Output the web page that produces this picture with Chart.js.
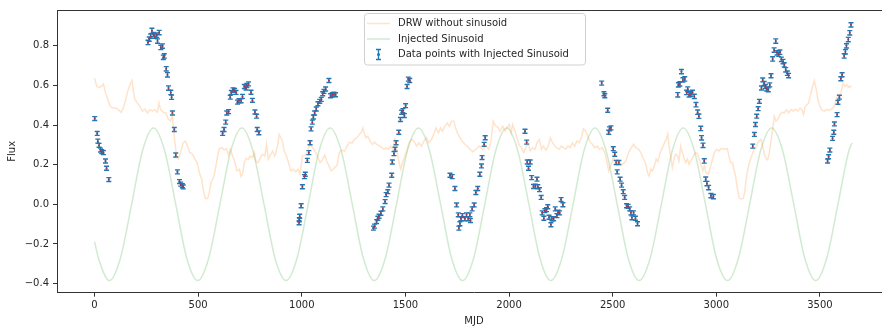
<!DOCTYPE html>
<html>
<head>
<meta charset="utf-8">
<script src="https://cdn.jsdelivr.net/npm/chart.js@4"></script>
<style>
html,body{margin:0;padding:0;background:#fff;overflow:hidden;}
#wrap{position:absolute;left:0;top:0;width:895px;height:329px;}
</style>
</head>
<body>
<div id="wrap"><canvas id="c" width="895" height="329"></canvas></div>
<script>
// ---- Data ----
const xTicks = [0, 500, 1000, 1500, 2000, 2500, 3000, 3500];
const yTicks = [-0.4, -0.2, 0.0, 0.2, 0.4, 0.6, 0.8];

const drwT = [0,11,24,35,43,51,62,75,88,101,115,128,139,150,160,171,181,187,195,207,219,231,243,255,267,280,291,303,311,319,332,344,356,367,375,380,388,396,405,415,428,439,449,460,473,484,495,506,517,527,534,546,554,562,574,583,594,602,615,626,638,646,655,666,678,687,699,707,714,723,731,742,751,763,771,779,790,800,811,822,830,838,848,859,870,883,891,899,907,915,926,936,947,958,971,982,992,1003,1014,1027,1035,1046,1056,1067,1078,1088,1099,1111,1120,1131,1142,1155,1170,1181,1194,1207,1218,1229,1242,1253,1266,1277,1287,1295,1301,1309,1319,1330,1341,1351,1362,1373,1386,1397,1407,1418,1429,1439,1450,1458,1466,1477,1486,1495,1506,1517,1530,1541,1554,1565,1578,1589,1602,1613,1626,1637,1647,1659,1670,1679,1690,1702,1712,1723,1734,1742,1751,1763,1774,1787,1799,1811,1825,1841,1857,1873,1889,1902,1913,1924,1934,1945,1957,1969,1981,1990,2001,2010,2017,2029,2038,2050,2061,2070,2082,2093,2102,2113,2125,2135,2146,2157,2166,2178,2189,2199,2210,2221,2231,2242,2253,2263,2274,2285,2295,2306,2317,2327,2338,2349,2359,2370,2381,2391,2402,2413,2426,2437,2449,2462,2473,2481,2492,2505,2517,2529,2540,2553,2564,2577,2588,2601,2612,2625,2636,2646,2654,2662,2668,2676,2684,2692,2702,2710,2718,2729,2740,2750,2758,2766,2772,2780,2788,2796,2804,2813,2820,2828,2836,2844,2852,2861,2868,2876,2886,2894,2902,2910,2918,2926,2935,2942,2950,2962,2973,2982,2990,3001,3013,3022,3034,3045,3053,3061,3069,3077,3085,3093,3101,3111,3122,3130,3137,3144,3152,3160,3168,3176,3184,3192,3200,3208,3216,3224,3232,3240,3248,3256,3264,3272,3280,3288,3296,3308,3317,3328,3339,3349,3361,3372,3381,3392,3404,3414,3421,3429,3438,3445,3453,3463,3473,3481,3489,3497,3508,3521,3532,3545,3556,3569,3577,3585,3593,3601,3612,3620,3630,3641,3652];
const drwF = [0.637,0.595,0.590,0.598,0.608,0.570,0.536,0.495,0.486,0.486,0.478,0.465,0.486,0.528,0.570,0.603,0.625,0.578,0.528,0.511,0.495,0.470,0.481,0.461,0.478,0.470,0.478,0.465,0.511,0.478,0.465,0.461,0.431,0.420,0.453,0.394,0.311,0.244,0.228,0.261,0.311,0.319,0.294,0.261,0.253,0.228,0.211,0.160,0.127,0.060,0.030,0.030,0.060,0.110,0.135,0.177,0.244,0.281,0.286,0.274,0.281,0.248,0.278,0.244,0.211,0.169,0.177,0.140,0.152,0.211,0.231,0.228,0.244,0.236,0.261,0.215,0.211,0.236,0.253,0.244,0.303,0.228,0.248,0.269,0.244,0.294,0.353,0.336,0.319,0.269,0.244,0.211,0.169,0.177,0.164,0.177,0.152,0.244,0.248,0.261,0.294,0.297,0.281,0.261,0.236,0.211,0.224,0.248,0.219,0.194,0.169,0.181,0.197,0.261,0.274,0.269,0.294,0.314,0.308,0.328,0.336,0.353,0.364,0.386,0.361,0.336,0.344,0.319,0.303,0.314,0.303,0.297,0.286,0.278,0.286,0.278,0.294,0.278,0.328,0.278,0.228,0.177,0.211,0.236,0.269,0.311,0.328,0.319,0.294,0.311,0.294,0.319,0.336,0.311,0.328,0.353,0.386,0.361,0.386,0.369,0.394,0.411,0.394,0.420,0.420,0.386,0.361,0.336,0.319,0.303,0.294,0.278,0.265,0.278,0.294,0.278,0.294,0.278,0.319,0.420,0.398,0.390,0.369,0.394,0.369,0.386,0.403,0.361,0.403,0.369,0.336,0.297,0.286,0.261,0.286,0.311,0.269,0.286,0.278,0.311,0.328,0.278,0.294,0.274,0.294,0.336,0.311,0.294,0.286,0.278,0.294,0.286,0.278,0.294,0.286,0.311,0.294,0.319,0.311,0.336,0.381,0.369,0.340,0.314,0.303,0.286,0.294,0.278,0.286,0.261,0.211,0.169,0.202,0.236,0.211,0.219,0.197,0.207,0.219,0.261,0.281,0.303,0.286,0.278,0.261,0.236,0.219,0.194,0.160,0.143,0.177,0.169,0.197,0.228,0.215,0.261,0.286,0.311,0.328,0.355,0.294,0.244,0.186,0.228,0.253,0.244,0.219,0.294,0.261,0.236,0.211,0.228,0.202,0.219,0.236,0.253,0.261,0.253,0.228,0.202,0.169,0.194,0.160,0.152,0.194,0.228,0.261,0.278,0.269,0.281,0.281,0.278,0.281,0.244,0.211,0.211,0.177,0.144,0.085,0.030,0.027,0.030,0.060,0.127,0.177,0.211,0.236,0.261,0.278,0.286,0.311,0.319,0.328,0.294,0.253,0.231,0.224,0.261,0.319,0.378,0.445,0.420,0.428,0.453,0.465,0.461,0.478,0.461,0.478,0.470,0.481,0.470,0.486,0.475,0.453,0.495,0.503,0.511,0.545,0.587,0.625,0.587,0.536,0.503,0.478,0.470,0.478,0.475,0.481,0.495,0.520,0.550,0.553,0.562,0.612,0.595,0.603,0.590,0.598];

const sinT = [0,19,72,125,179,232,285,338,392,445,498,551,605,658,711,764,818,871,924,977,1031,1084,1137,1190,1244,1297,1350,1403,1457,1510,1563,1616,1670,1723,1776,1829,1883,1936,1989,2042,2096,2149,2202,2255,2309,2362,2415,2468,2522,2575,2628,2681,2735,2788,2841,2894,2948,3001,3054,3107,3161,3214,3267,3320,3374,3427,3480,3533,3587,3640,3655];
const sinF = [-0.188,-0.272,-0.385,-0.272,0,0.272,0.385,0.272,0,-0.272,-0.385,-0.272,0,0.272,0.385,0.272,0,-0.272,-0.385,-0.272,0,0.272,0.385,0.272,0,-0.272,-0.385,-0.272,0,0.272,0.385,0.272,0,-0.272,-0.385,-0.272,0,0.272,0.385,0.272,0,-0.272,-0.385,-0.272,0,0.272,0.385,0.272,0,-0.272,-0.385,-0.272,0,0.272,0.385,0.272,0,-0.272,-0.385,-0.272,0,0.272,0.385,0.272,0,-0.272,-0.385,-0.272,0,0.272,0.31];

const obsT = [1,13,16,22,29,35,43,53,58,69,
258,264,271,277,284,291,300,304,312,320,328,332,337,346,352,357,368,372,376,385,392,400,410,416,424,428,
618,625,633,638,647,655,660,668,676,683,690,697,707,714,723,731,735,743,755,762,774,782,785,793,
987,988,990,997,1003,1013,1017,1027,1034,1040,1045,1051,1056,1062,1070,1078,1087,1094,1101,1107,1115,1131,1139,1147,1155,1163,
1346,1351,1361,1367,1373,1382,1391,1402,1407,1415,1421,1434,1437,1445,1450,1455,1468,1476,1482,1488,1495,1501,1508,1514,1521,
1715,1726,1739,1747,1755,1758,1763,1768,1775,1787,1795,1803,1811,1814,1822,1832,1840,1849,1859,1867,1870,1880,1885,
2077,2085,2088,2094,2102,2109,2118,2127,2135,2139,2147,2155,2160,2168,2173,2181,2187,2193,2202,2207,2215,2223,2231,2237,2244,2251,2260,
2447,2458,2462,2476,2481,2485,2492,2503,2510,2517,2522,2530,2536,2543,2551,2558,2567,2575,2582,2588,2593,2601,2610,2620,
2814,2817,2824,2832,2839,2848,2857,2862,2869,2877,2885,2894,2902,2910,2916,2925,2929,2936,2942,2949,2955,2963,2974,2986,
3176,3184,3189,3195,3202,3208,3218,3224,3231,3237,3243,3251,3258,3264,3272,3279,3287,3293,3301,3307,3314,3322,3328,3335,3343,3349,
3537,3542,3548,3561,3567,3570,3583,3587,3594,3601,3607,3617,3623,3628,3637,3644,3650];
const obsF = [0.433,0.358,0.319,0.298,0.274,0.266,0.261,0.219,0.182,0.125,
0.817,0.834,0.849,0.876,0.857,0.849,0.854,0.824,0.867,0.792,0.799,0.742,0.749,0.684,0.654,0.587,0.565,0.541,0.461,0.378,0.249,0.164,0.115,0.102,0.094,0.088,
0.358,0.378,0.415,0.461,0.468,0.541,0.565,0.578,0.575,0.565,0.516,0.523,0.523,0.545,0.595,0.587,0.600,0.608,0.566,0.525,0.466,0.445,0.378,0.361,
-0.093,-0.078,-0.060,-0.007,0.089,0.140,0.152,0.222,0.261,0.311,0.381,0.415,0.441,0.461,0.481,0.508,0.520,0.530,0.558,0.570,0.582,0.625,0.548,0.553,0.556,0.553,
-0.120,-0.110,-0.087,-0.070,-0.060,-0.045,-0.023,0.014,0.049,0.064,0.097,0.147,0.214,0.256,0.278,0.311,0.364,0.428,0.465,0.473,0.448,0.498,0.595,0.632,0.625,
0.147,0.140,0.080,-0.003,-0.053,-0.120,-0.098,-0.073,-0.057,-0.073,-0.053,-0.073,-0.053,-0.082,-0.023,-0.003,0.060,0.080,0.152,0.194,0.236,0.303,0.336,
0.369,0.314,0.214,0.182,0.214,0.135,0.090,0.092,0.127,0.089,0.074,0.035,-0.043,-0.070,-0.032,-0.027,-0.012,-0.065,-0.103,-0.073,-0.073,-0.023,-0.057,-0.040,-0.043,0.024,-0.002,
0.612,0.558,0.548,0.475,0.364,0.381,0.386,0.281,0.253,0.211,0.164,0.211,0.127,0.097,0.064,0.035,-0.007,-0.010,-0.023,-0.043,-0.068,-0.043,-0.070,-0.098,
0.553,0.603,0.608,0.670,0.628,0.633,0.565,0.582,0.553,0.557,0.565,0.545,0.503,0.465,0.445,0.383,0.336,0.298,0.219,0.127,0.105,0.085,0.044,0.039,
0.294,0.353,0.403,0.445,0.483,0.520,0.587,0.628,0.610,0.595,0.582,0.578,0.603,0.649,0.734,0.779,0.824,0.765,0.758,0.768,0.732,0.721,0.704,0.679,0.662,0.650,
0.219,0.240,0.274,0.333,0.364,0.406,0.453,0.515,0.541,0.634,0.654,0.749,0.770,0.800,0.832,0.866,0.906];
const obsErr = [0.010,0.010,0.010,0.010,0.010,0.010,0.010,0.010,0.010,0.010,
0.011,0.011,0.011,0.013,0.011,0.011,0.011,0.011,0.011,0.011,0.011,0.011,0.011,0.011,0.011,0.011,0.011,0.011,0.010,0.010,0.010,0.010,0.010,0.010,0.010,0.010,
0.010,0.010,0.010,0.010,0.010,0.010,0.010,0.010,0.010,0.010,0.010,0.010,0.010,0.010,0.010,0.010,0.010,0.010,0.010,0.010,0.010,0.010,0.010,0.010,
0.010,0.010,0.010,0.010,0.010,0.010,0.010,0.010,0.010,0.010,0.010,0.010,0.010,0.010,0.010,0.010,0.010,0.010,0.010,0.010,0.010,0.010,0.010,0.010,0.010,0.010,
0.010,0.010,0.010,0.010,0.010,0.010,0.010,0.010,0.010,0.010,0.010,0.010,0.010,0.010,0.010,0.010,0.010,0.010,0.010,0.010,0.010,0.010,0.010,0.010,0.010,
0.010,0.010,0.010,0.010,0.010,0.010,0.010,0.010,0.010,0.010,0.010,0.010,0.010,0.010,0.010,0.010,0.010,0.010,0.010,0.010,0.010,0.010,0.010,
0.010,0.010,0.010,0.010,0.010,0.010,0.010,0.010,0.010,0.010,0.010,0.010,0.010,0.010,0.010,0.010,0.010,0.010,0.010,0.010,0.010,0.010,0.010,0.010,0.010,0.010,0.010,
0.010,0.010,0.010,0.010,0.010,0.010,0.010,0.010,0.010,0.010,0.010,0.010,0.010,0.010,0.010,0.010,0.010,0.010,0.010,0.010,0.010,0.010,0.010,0.010,
0.011,0.011,0.011,0.011,0.011,0.011,0.011,0.011,0.011,0.011,0.011,0.011,0.011,0.011,0.011,0.011,0.011,0.011,0.011,0.011,0.011,0.011,0.011,0.011,
0.010,0.010,0.010,0.010,0.010,0.010,0.010,0.010,0.010,0.010,0.010,0.010,0.010,0.010,0.011,0.011,0.011,0.011,0.011,0.011,0.011,0.011,0.011,0.011,0.011,0.011,
0.010,0.010,0.010,0.010,0.010,0.010,0.010,0.010,0.010,0.010,0.010,0.011,0.011,0.011,0.011,0.011,0.011];

const labels = ['DRW without sinusoid', 'Injected Sinusoid', 'Data points with Injected Sinusoid'];

// ---- Styles ----
const C_DRW = 'rgba(255,127,14,0.22)';
const C_SIN = 'rgba(44,160,44,0.22)';
const C_ERR = '#1f77b4';
const C_DOT = '#a8344f';
const FONT = '"DejaVu Sans", sans-serif';
const TXT = '#262626';

const xy = (xs, ys) => xs.map((x, i) => ({x: x, y: ys[i]}));

const frame = {
  id: 'frame',
  afterDraw(chart) {
    const {ctx, chartArea: a} = chart;
    ctx.save();
    ctx.strokeStyle = '#333';
    ctx.lineWidth = 1;
    ctx.beginPath();
    ctx.moveTo(a.left, Math.round(a.top) + 0.5);
    ctx.lineTo(a.right, Math.round(a.top) + 0.5);
    ctx.stroke();
    ctx.restore();
  }
};

function errGlyph(ctx, x, y0, y1) {
  ctx.beginPath();
  ctx.moveTo(x, y0); ctx.lineTo(x, y1);
  ctx.moveTo(x - 2.5, y0); ctx.lineTo(x + 2.5, y0);
  ctx.moveTo(x - 2.5, y1); ctx.lineTo(x + 2.5, y1);
  ctx.stroke();
}

const errorBars = {
  id: 'errorBars',
  beforeDatasetDraw(chart, args) {
    if (args.index !== 2) return;
    const {ctx, scales: {x, y}} = chart;
    ctx.save();
    ctx.strokeStyle = C_ERR;
    ctx.lineWidth = 1.4;
    for (let i = 0; i < obsT.length; i++) {
      const px = x.getPixelForValue(obsT[i]);
      const top = y.getPixelForValue(obsF[i] + obsErr[i]);
      const bot = y.getPixelForValue(obsF[i] - obsErr[i]);
      errGlyph(ctx, px, top, bot);
    }
    ctx.restore();
  }
};

const legendBox = {
  id: 'legendBox',
  afterDraw(chart) {
    const ctx = chart.ctx;
    const L = 364.5, T = 13.5, W = 221, H = 51.5, r = 3;
    ctx.save();
    ctx.fillStyle = 'rgba(255,255,255,0.8)';
    ctx.strokeStyle = '#d0d0d0';
    ctx.lineWidth = 1;
    ctx.beginPath();
    ctx.roundRect(L, T, W, H, r);
    ctx.fill();
    ctx.stroke();
    const rows = [23.5, 39, 54.5];
    ctx.lineWidth = 1.5;
    ctx.strokeStyle = C_DRW;
    ctx.beginPath(); ctx.moveTo(367, rows[0]); ctx.lineTo(390, rows[0]); ctx.stroke();
    ctx.strokeStyle = C_SIN;
    ctx.beginPath(); ctx.moveTo(367, rows[1]); ctx.lineTo(390, rows[1]); ctx.stroke();
    ctx.strokeStyle = C_ERR;
    ctx.lineWidth = 1.3;
    errGlyph(ctx, 378.5, rows[2] - 5, rows[2] + 5);
    ctx.fillStyle = C_ERR;
    ctx.beginPath(); ctx.arc(378.5, rows[2], 1.5, 0, Math.PI * 2); ctx.fill();
    ctx.fillStyle = TXT;
    ctx.font = '10px ' + FONT;
    ctx.textBaseline = 'middle';
    ctx.textAlign = 'left';
    labels.forEach((t, i) => ctx.fillText(t, 398, rows[i]));
    ctx.restore();
  }
};

new Chart(document.getElementById('c'), {
  data: {
    datasets: [
      { type: 'line', label: labels[0], data: xy(drwT, drwF), borderColor: C_DRW, borderWidth: 1.5, pointRadius: 0, tension: 0, fill: false },
      { type: 'line', label: labels[1], data: xy(sinT, sinF), borderColor: C_SIN, borderWidth: 1.5, pointRadius: 0, cubicInterpolationMode: 'monotone', fill: false },
      { type: 'scatter', label: labels[2], data: xy(obsT, obsF), pointRadius: 1, pointBackgroundColor: C_DOT, pointBorderWidth: 0, borderColor: C_DOT }
    ]
  },
  options: {
    responsive: false,
    animation: false,
    devicePixelRatio: 1,
    layout: { padding: { top: 8, left: 0, right: 0, bottom: 0 } },
    plugins: { legend: { display: false }, tooltip: { enabled: false } },
    scales: {
      x: {
        type: 'linear', min: -181, max: 3843,
        afterFit(s) { s.height = 36.3; },
        afterBuildTicks(s) { s.ticks = xTicks.map(v => ({value: v})); },
        grid: { drawOnChartArea: false, drawTicks: true, tickLength: 4, tickColor: '#333' },
        border: { color: '#333', width: 1 },
        ticks: { font: { family: FONT, size: 10 }, color: TXT, padding: 3, maxRotation: 0,
          callback: v => String(v) },
        title: { display: true, text: 'MJD', font: { family: FONT, size: 10 }, color: TXT, padding: { top: 0, bottom: 2 } }
      },
      y: {
        type: 'linear', min: -0.446, max: 0.981,
        afterFit(s) { s.width = 57; },
        afterBuildTicks(s) { s.ticks = yTicks.map(v => ({value: v})); },
        grid: { drawOnChartArea: false, drawTicks: true, tickLength: 4, tickColor: '#333' },
        border: { color: '#333', width: 1 },
        ticks: { font: { family: FONT, size: 10 }, color: TXT, padding: 4,
          callback: v => (v < 0 ? '\u2212' : '') + Math.abs(v).toFixed(1) },
        title: { display: true, text: 'Flux', font: { family: FONT, size: 10 }, color: TXT, padding: { top: 6, bottom: 0 } }
      }
    }
  },
  plugins: [frame, errorBars, legendBox]
});
</script>
</body>
</html>
